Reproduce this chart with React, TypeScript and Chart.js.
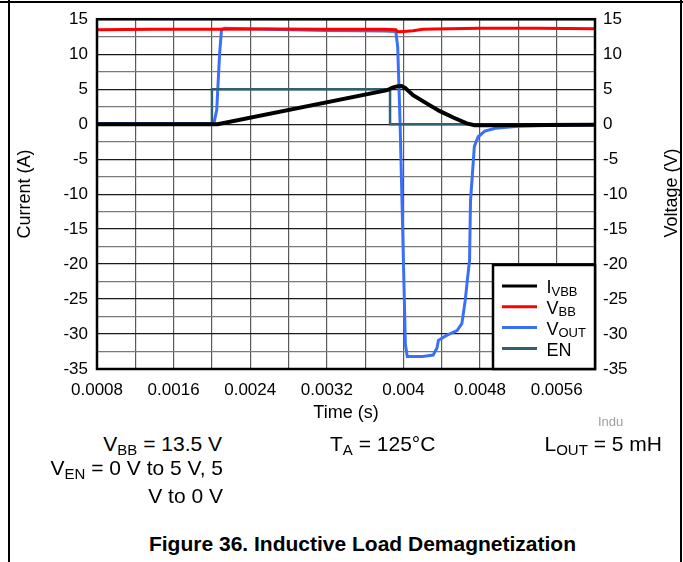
import React, { useEffect, useRef } from 'react';
import { Chart, registerables } from 'chart.js';

Chart.register(...registerables);

const FONT = "'Liberation Sans', Arial, Helvetica, sans-serif";

// ---- axes ----
const X_GRID_TICKS = [0.0008, 0.0012, 0.0016, 0.002, 0.0024, 0.0028, 0.0032, 0.0036, 0.004, 0.0044, 0.0048, 0.0052, 0.0056, 0.006];
const X_TICK_LABELS = ['0.0008', '0.0016', '0.0024', '0.0032', '0.004', '0.0048', '0.0056'];
const Y_GRID_TICKS = [-35, -32.5, -30, -27.5, -25, -22.5, -20, -17.5, -15, -12.5, -10, -7.5, -5, -2.5, 0, 2.5, 5, 7.5, 10, 12.5, 15];
const Y_TICK_LABELS = ['-35', '-30', '-25', '-20', '-15', '-10', '-5', '0', '5', '10', '15'];

// ---- series ----
const T_IVBB = [0.0008, 0.00204, 0.00206, 0.00383, 0.00388, 0.00393, 0.00398, 0.00402, 0.0041, 0.00425, 0.00438, 0.00452, 0.00466, 0.00474, 0.0049, 0.006];
const V_IVBB = [0, 0, 0, 4.85, 5.2, 5.4, 5.45, 5.15, 4.15, 2.9, 1.86, 0.95, 0.1, -0.15, -0.15, -0.1];

const T_VBB = [0.0008, 0.0014, 0.002, 0.0026, 0.0032, 0.0038, 0.00392, 0.00394, 0.004, 0.0041, 0.0042, 0.00433, 0.0048, 0.0054, 0.006];
const V_VBB = [13.5, 13.55, 13.55, 13.6, 13.55, 13.55, 13.5, 13.2, 13.25, 13.35, 13.55, 13.6, 13.7, 13.7, 13.65];

const T_VOUT = [0.0008, 0.00202, 0.00205, 0.00208, 0.0021, 0.00213, 0.0026, 0.0032, 0.0038, 0.00392, 0.00394, 0.003965, 0.00399, 0.00402, 0.00404, 0.0042, 0.00431, 0.00435, 0.004365, 0.00445, 0.00456, 0.00461, 0.004645, 0.00467, 0.00469, 0.0047, 0.00474, 0.00478, 0.00485, 0.00496, 0.0052, 0.0056, 0.006];
const V_VOUT = [0.1, 0.1, 2, 10, 13.5, 13.7, 13.55, 13.4, 13.3, 13.25, 11, 0, -14, -31.5, -33.2, -33.2, -33.0, -32.0, -30.9, -30.2, -29.5, -28.5, -25.2, -21.9, -19.5, -11, -3.2, -1.8, -1.0, -0.6, -0.3, -0.15, -0.1];

const T_EN = [0.0008, 0.002, 0.002, 0.00386, 0.00386, 0.006];
const V_EN = [0, 0, 5, 5, 0, 0];

const LEGEND_MAIN = ['I', 'V', 'V', 'EN'];
const LEGEND_SUB = ['VBB', 'BB', 'OUT', ''];

const C_IVBB = '#000000';
const C_VBB = '#ff0000';
const C_VOUT = '#3a6ff7';
const C_EN = '#2f6074';
const LEGEND_COLORS = [C_IVBB, C_VBB, C_VOUT, C_EN];

const pts = (t: number[], v: number[]) => t.map((x, i) => ({ x, y: v[i] }));

const framePlugin = {
  id: 'frameLegend',
  afterDraw(chart: any) {
    const { ctx, chartArea: a } = chart;
    ctx.save();
    ctx.strokeStyle = '#000';
    ctx.lineWidth = 2.5;
    ctx.strokeRect(a.left, a.top, a.right - a.left, a.bottom - a.top);
    const w = 102;
    const h = 104;
    const lx = a.right - w;
    const ly = a.bottom - h;
    ctx.fillStyle = '#fff';
    ctx.fillRect(lx, ly, w, h);
    ctx.strokeRect(lx, ly, w, h);
    LEGEND_MAIN.forEach((m, i) => {
      const cy = ly + 21 + i * 20.8;
      ctx.strokeStyle = LEGEND_COLORS[i];
      ctx.lineWidth = 3;
      ctx.beginPath();
      ctx.moveTo(lx + 9, cy);
      ctx.lineTo(lx + 44, cy);
      ctx.stroke();
      ctx.fillStyle = '#000';
      ctx.textAlign = 'left';
      ctx.textBaseline = 'alphabetic';
      ctx.font = `18px ${FONT}`;
      const tx = lx + 53.5;
      ctx.fillText(m, tx, cy + 7.3);
      const mw = ctx.measureText(m).width;
      if (LEGEND_SUB[i]) {
        ctx.font = `13px ${FONT}`;
        ctx.fillText(LEGEND_SUB[i], tx + mw, cy + 9.5);
      }
    });
    ctx.restore();
  },
};

function Txt(props: { left?: number; right?: number; center?: number; baseline: number; size: number; bold?: boolean; color?: string; children: any }) {
  const { left, right, center, baseline, size, bold, color, children } = props;
  const style: any = {
    position: 'absolute',
    top: baseline - 0.8465 * size,
    fontSize: size,
    lineHeight: `${size}px`,
    fontWeight: bold ? 'bold' : 'normal',
    whiteSpace: 'nowrap',
    color: color || '#000',
  };
  if (left !== undefined) style.left = left;
  if (right !== undefined) {
    style.right = 683 - right;
    style.textAlign = 'right';
  }
  if (center !== undefined) {
    style.left = center;
    style.transform = 'translateX(-50%)';
  }
  return <div style={style}>{children}</div>;
}

const Sub = (p: { children: any }) => (
  <span style={{ fontSize: 15, position: 'relative', top: 4 }}>{p.children}</span>
);

export default function App() {
  const ref = useRef<HTMLCanvasElement>(null);

  useEffect(() => {
    Chart.defaults.font.family = FONT;
    Chart.defaults.color = '#000';
    const yGridColor = (c: any) => (c.tick && c.tick.value % 5 === 0 ? '#1a1a1a' : '#7a7a7a');
    const yLabel = (_v: any, i: number) => (i % 2 === 0 ? Y_TICK_LABELS[i / 2] ?? '' : '');
    const chart = new Chart(ref.current as HTMLCanvasElement, {
      type: 'line',
      data: {
        datasets: [
          { label: 'IVBB', data: pts(T_IVBB, V_IVBB), borderColor: C_IVBB, borderWidth: 4, pointRadius: 0, tension: 0, order: 0 },
          { label: 'EN', data: pts(T_EN, V_EN), borderColor: C_EN, borderWidth: 2.5, pointRadius: 0, tension: 0, order: 1 },
          { label: 'VBB', data: pts(T_VBB, V_VBB), borderColor: C_VBB, borderWidth: 3, pointRadius: 0, tension: 0, order: 2 },
          { label: 'VOUT', data: pts(T_VOUT, V_VOUT), borderColor: C_VOUT, borderWidth: 3, pointRadius: 0, tension: 0, order: 3 },
        ],
      },
      options: {
        responsive: false,
        animation: false,
        events: [],
        layout: { padding: { top: 17, left: 0, right: 0, bottom: 0 } },
        plugins: { legend: { display: false }, tooltip: { enabled: false } },
        scales: {
          x: {
            type: 'linear',
            min: 0.0008,
            max: 0.006,
            afterBuildTicks: (s: any) => {
              s.ticks = X_GRID_TICKS.map((v) => ({ value: v }));
            },
            afterFit: (s: any) => {
              s.height = 56;
            },
            ticks: {
              autoSkip: false,
              maxRotation: 0,
              minRotation: 0,
              padding: 11,
              font: { size: 17 },
              color: '#000',
              callback: (_v: any, i: number) => (i % 2 === 0 ? X_TICK_LABELS[i / 2] ?? '' : ''),
            },
            grid: { color: '#5a5a5a', lineWidth: 1.2, drawTicks: false },
            border: { display: true, color: '#000', width: 2 },
            title: { display: true, text: 'Time (s)', font: { size: 18 }, color: '#000', padding: { top: 0, bottom: 1.5 } },
          },
          y: {
            type: 'linear',
            position: 'left',
            min: -35,
            max: 15,
            afterBuildTicks: (s: any) => {
              s.ticks = Y_GRID_TICKS.map((v) => ({ value: v }));
            },
            afterFit: (s: any) => {
              s.width = 97;
            },
            ticks: { autoSkip: false, padding: 9, font: { size: 17 }, color: '#000', callback: yLabel },
            grid: { color: yGridColor, lineWidth: 1.2, drawTicks: false },
            border: { display: true, color: '#000', width: 2 },
            title: { display: true, text: 'Current (A)', font: { size: 18 }, color: '#000', padding: { top: 14.2, bottom: 0 } },
          },
          y1: {
            type: 'linear',
            position: 'right',
            min: -35,
            max: 15,
            afterBuildTicks: (s: any) => {
              s.ticks = Y_GRID_TICKS.map((v) => ({ value: v }));
            },
            afterFit: (s: any) => {
              s.width = 88;
            },
            ticks: { autoSkip: false, padding: 8, font: { size: 17 }, color: '#000', callback: yLabel },
            grid: { display: false, drawTicks: false },
            border: { display: true, color: '#000', width: 2 },
          },
        },
      },
      plugins: [framePlugin],
    } as any);
    return () => chart.destroy();
  }, []);

  return (
    <div
      style={{
        position: 'absolute',
        left: 0,
        top: 0,
        width: 683,
        height: 562,
        background: '#fff',
        overflow: 'hidden',
        fontFamily: FONT,
        color: '#000',
      }}
    >
      <canvas ref={ref} width={683} height={425} style={{ position: 'absolute', left: 0, top: 0, width: 683, height: 425, display: 'block' }} />
      {/* frame */}
      <div style={{ position: 'absolute', left: 0, top: 1, width: 683, height: 2, background: '#000' }} />
      <div style={{ position: 'absolute', left: 7.5, top: 0, width: 2, height: 562, background: '#000' }} />
      <div style={{ position: 'absolute', left: 680, top: 0, width: 2, height: 562, background: '#000' }} />
      {/* right axis title */}
      <div
        style={{
          position: 'absolute',
          left: 671,
          top: 193,
          fontSize: 18,
          lineHeight: '18px',
          whiteSpace: 'nowrap',
          transform: 'translate(-50%, -50%) rotate(-90deg)',
        }}
      >
        Voltage (V)
      </div>
      <Txt left={598} baseline={426} size={13} color="#a0a0a0">Indu</Txt>
      <Txt right={222} baseline={450.7} size={21}>
        V<Sub>BB</Sub> = 13.5 V
      </Txt>
      <Txt left={330} baseline={450.7} size={21}>
        T<Sub>A</Sub> = 125°C
      </Txt>
      <Txt left={544.5} baseline={450.7} size={21}>
        L<Sub>OUT</Sub> = 5 mH
      </Txt>
      <Txt right={223} baseline={475} size={21}>
        V<Sub>EN</Sub> = 0 V to 5 V, 5
      </Txt>
      <Txt right={223} baseline={502.5} size={21}>
        V to 0 V
      </Txt>
      <Txt center={362.5} baseline={551} size={21} bold>
        Figure 36. Inductive Load Demagnetization
      </Txt>
    </div>
  );
}
